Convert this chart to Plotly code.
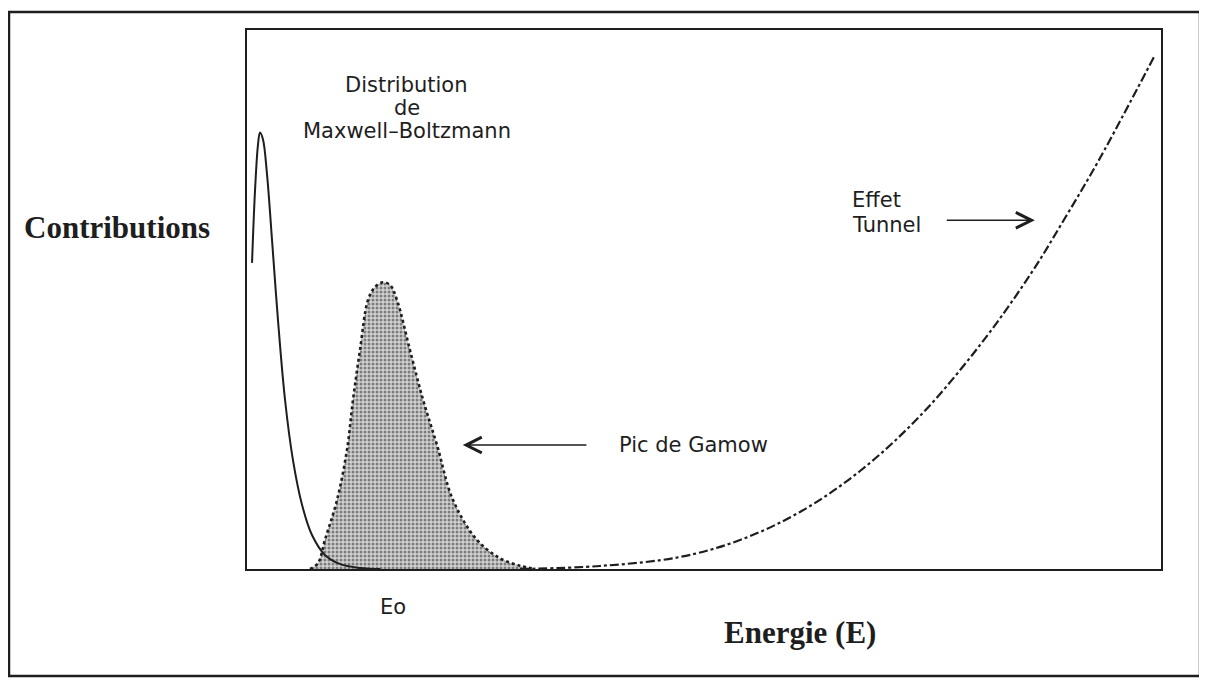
import plotly.graph_objects as go

# Maxwell-Boltzmann distribution (solid line)
mb_x = [0.55, 0.88, 1.2, 1.42, 1.75, 2.19, 2.74, 3.39, 4.16, 5.03, 6.02, 7.11, 8.53, 10.2, 12.4, 14.6]
mb_y = [56.8, 70.3, 78.7, 81.0, 79.7, 73.2, 61.0, 46.2, 31.4, 20.2, 11.9, 6.3, 2.6, 0.9, 0.2, 0.0]

# Gamow peak (dotted, shaded)
gw_x = [6.89, 7.77, 8.53, 9.85, 10.94, 11.60, 12.36, 13.24, 14.00, 14.88, 15.65, 16.41,
        17.83, 19.26, 20.79, 22.54, 25.16, 27.68, 29.87, 31.51]
gw_y = [0.0, 1.1, 5.4, 12.8, 22.1, 31.4, 40.6, 49.9, 52.3, 53.2, 52.7, 49.9,
        40.6, 31.4, 23.0, 12.8, 5.4, 2.0, 0.6, 0.0]

# Tunnel effect (dash-dot)
tu_x = [29.87, 38.62, 47.37, 53.94, 60.50, 67.07, 73.63, 80.20, 85.67, 89.50, 93.33, 99.23]
tu_y = [0.0, 0.56, 2.23, 5.38, 10.58, 18.18, 28.39, 41.56, 54.55, 65.12, 76.25, 94.99]

PLOT_FONT = "DejaVu Sans"
INK = "#1e1e1e"

fig = go.Figure()

fig.add_trace(go.Scatter(
    x=gw_x, y=gw_y, mode="lines", line=dict(color=INK, width=2.6, dash="dot", shape="spline"),
    fill="tozeroy", fillcolor="#b5b5b5",
    fillpattern=dict(shape=".", fgcolor="#262626", bgcolor="#d2d2d2", size=4, solidity=0.45),
    hoverinfo="skip", showlegend=False))

fig.add_trace(go.Scatter(
    x=mb_x, y=mb_y, mode="lines", line=dict(color=INK, width=2, shape="spline"),
    hoverinfo="skip", showlegend=False))

fig.add_trace(go.Scatter(
    x=tu_x, y=tu_y, mode="lines", line=dict(color=INK, width=2.2, dash="dashdot", shape="spline"),
    hoverinfo="skip", showlegend=False))

txt = dict(family=PLOT_FONT, size=21, color=INK)

def note(x, y, text, xanchor="center", xref="x", yref="y", font=txt):
    fig.add_annotation(x=x, y=y, xref=xref, yref=yref, text=text, showarrow=False,
                       font=font, xanchor=xanchor, yanchor="middle")

note(17.5, 89.8, "Distribution")
note(17.5, 85.5, "de")
note(17.5, 81.2, "Maxwell–Boltzmann")
note(40.5, 23.0, "Pic de Gamow", xanchor="left")
note(66.0, 68.5, "Effet", xanchor="left")
note(66.0, 63.8, "Tunnel", xanchor="left")
note(16.0, -0.0705, "Eo", yref="paper")

fig.add_annotation(x=23.6, y=23.0, ax=37.3, ay=23.0, xref="x", yref="y", axref="x", ayref="y",
                   text="", showarrow=True, arrowhead=5, arrowsize=2.2, arrowwidth=1.4,
                   arrowcolor=INK)
fig.add_annotation(x=86.2, y=64.7, ax=76.4, ay=64.7, xref="x", yref="y", axref="x", ayref="y",
                   text="", showarrow=True, arrowhead=5, arrowsize=2.2, arrowwidth=1.4,
                   arrowcolor=INK)

serif = dict(family="Liberation Serif", size=31, color=INK)
note(-0.142, 0.6345, "<b>Contributions</b>", xref="paper", yref="paper", font=serif)
note(0.605, -0.1169, "<b>Energie (E)</b>", xref="paper", yref="paper", font=serif)

# outer frame
fig.add_shape(type="rect", xref="paper", yref="paper",
              x0=-0.2604, x1=1.0427, y0=-0.1985, y1=1.0334,
              line=dict(color=INK, width=2.5), layer="below")

fig.update_xaxes(range=[0, 100], showgrid=False, zeroline=False, showticklabels=False,
                 ticks="", showline=True, linecolor=INK, linewidth=2, mirror=True)
fig.update_yaxes(range=[0, 100], showgrid=False, zeroline=False, showticklabels=False,
                 ticks="", showline=True, linecolor=INK, linewidth=2, mirror=True)

fig.update_layout(width=1199, height=674, margin=dict(l=239, r=46, t=22, b=113),
                  paper_bgcolor="white", plot_bgcolor="white")

fig.write_html("out.html")
